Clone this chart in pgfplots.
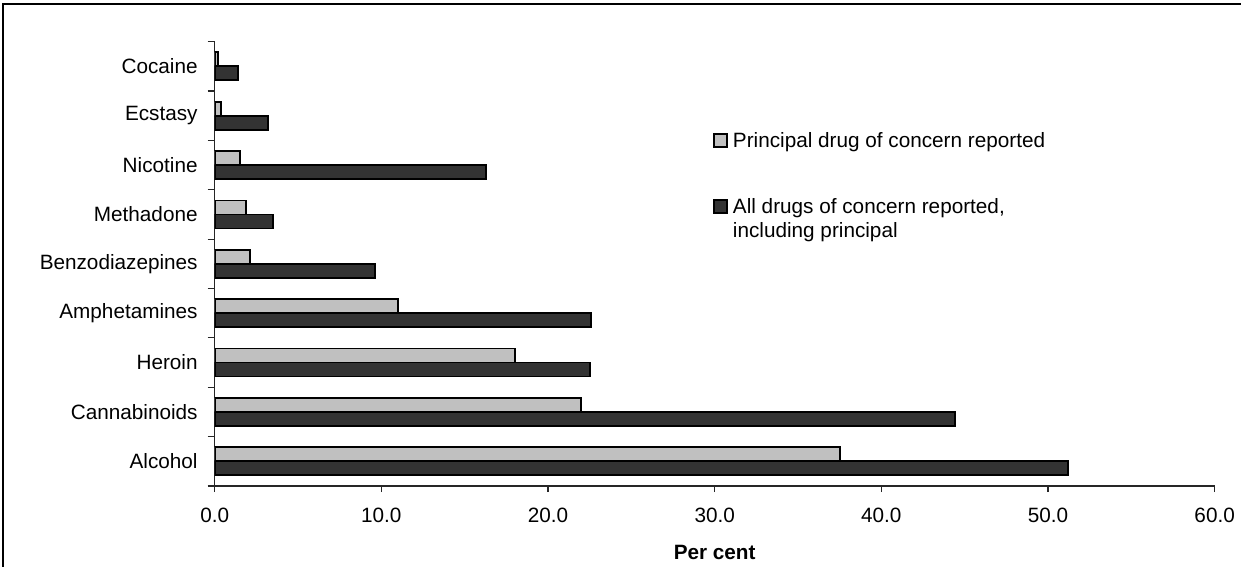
\documentclass[border=0pt]{standalone}
\usepackage{pgfplots}
\pgfplotsset{compat=1.18}
\usepackage{fontspec}
\setmainfont{Liberation Sans}

\definecolor{lightbar}{HTML}{C0C0C0}
\definecolor{darkbar}{HTML}{333333}

% y = 0 (Alcohol, bottom) ... 8 (Cocaine, top)
\pgfplotstableread{
y principal all
0 37.5 51.2
1 22.0 44.4
2 18.0 22.5
3 11.0 22.6
4 2.1 9.6
5 1.9 3.5
6 1.5 16.3
7 0.4 3.2
8 0.2 1.4
}\drugdata

\begin{document}
\fontsize{20.8pt}{24pt}\selectfont
\begin{tikzpicture}
\useasboundingbox (0,0) rectangle (1241bp,567bp);
% outer frame (only left and top edges show)
\draw[line width=1.7bp] (2.85bp,0bp) -- (2.85bp,562.8bp) -- (1241bp,562.8bp);
\begin{axis}[
    at={(214.7bp,81bp)}, anchor=south west,
    scale only axis,
    width=1000bp, height=444.3bp,
    xbar,
    bar width=14bp,
    xmin=0, xmax=60,
    ymin=-0.5, ymax=8.5,
    axis lines*=left,
    axis line style={black!85, line width=1.2bp, -},
    tick align=outside,
    tick pos=left,
    tick style={black!85, line width=1.2bp},
    major tick length=6bp,
    minor tick length=7bp,
    xtick={0,10,...,60},
    xticklabels={0.0,10.0,20.0,30.0,40.0,50.0,60.0},
    xticklabel style={yshift=-9bp},
    ytick={0,...,8},
    yticklabels={Alcohol,Cannabinoids,Heroin,Amphetamines,Benzodiazepines,Methadone,Nicotine,Ecstasy,Cocaine},
    major y tick style={draw=none},
    minor ytick={-0.5,0.5,...,8.5},
    yticklabel style={xshift=-4bp},
    xlabel={\textbf{Per cent}},
    xlabel style={at={(rel axis cs:0.5,0)}, anchor=base, yshift=-73bp},
    legend style={
        at={(rel axis cs:0.4985,0.7968)}, anchor=north west,
        draw=none, fill=none, inner sep=0pt,
        row sep=46bp, column sep=3bp,
        cells={anchor=base west},
        nodes={inner xsep=2bp, inner ysep=0bp, text height=15bp, text depth=5bp},
    },
]
\addplot[draw=black, line width=1.8bp, fill=lightbar, bar shift=7bp,
    legend image code/.code={\draw[black, line width=1.6bp, fill=lightbar] (0bp,0bp) rectangle (13bp,13bp);}]
    table[x=principal, y=y] {\drugdata};
\addplot[draw=black, line width=1.8bp, fill=darkbar, bar shift=-7bp,
    legend image code/.code={\draw[black, line width=1.6bp, fill=darkbar] (0bp,0bp) rectangle (13bp,13bp);}]
    table[x=all, y=y] {\drugdata};
\addlegendentry{Principal drug of concern reported}
\addlegendentry{\begin{tabular}[t]{@{}l@{}}All drugs of concern reported,\\including principal\end{tabular}}
\end{axis}
\end{tikzpicture}
\end{document}
